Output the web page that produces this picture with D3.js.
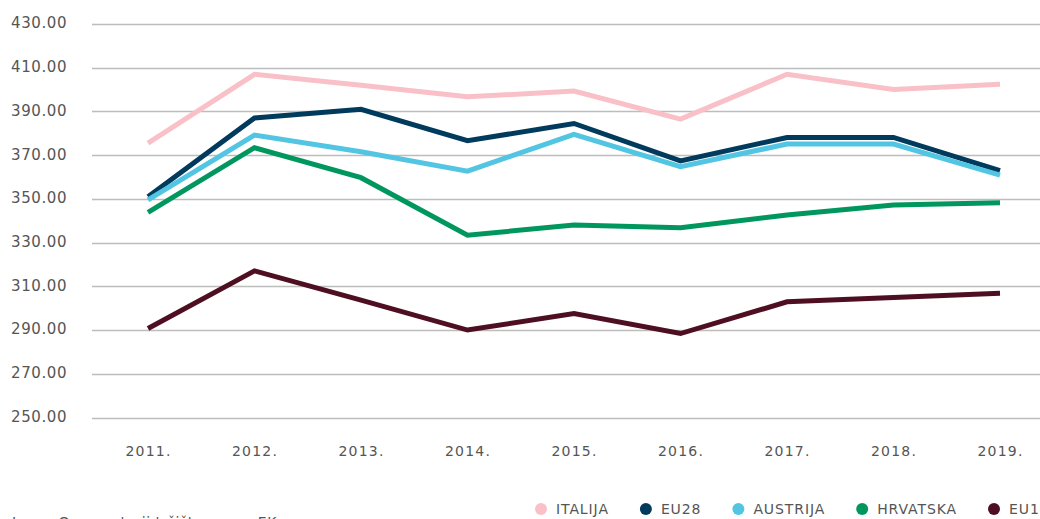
<!DOCTYPE html>
<html>
<head>
<meta charset="utf-8">
<script src="https://cdn.jsdelivr.net/npm/d3@7"></script>
<style>
  html, body { margin: 0; padding: 0; background: #fff; }
  svg { display: block; }
  text { font-family: "DejaVu Sans", sans-serif; fill: #555; }
</style>
</head>
<body>
<svg id="chart" width="1040" height="519"></svg>
<script>
const years = ["2011.", "2012.", "2013.", "2014.", "2015.", "2016.", "2017.", "2018.", "2019."];
const yTicks = [250, 270, 290, 310, 330, 350, 370, 390, 410, 430];
const seriesNames = ["ITALIJA", "EU28", "AUSTRIJA", "HRVATSKA", "EU13"];
const seriesColors = ["#f9c0c8", "#003a5d", "#52c5e2", "#00975f", "#4f0f22"];
const italija  = [375.5, 407.0, 402.0, 396.7, 399.3, 386.5, 407.0, 400.0, 402.4];
const eu28     = [351.0, 387.0, 391.0, 376.6, 384.5, 367.4, 378.1, 378.1, 362.9];
const austrija = [349.5, 379.2, 371.6, 362.7, 379.5, 364.7, 375.1, 375.1, 360.9];
const hrvatska = [343.8, 373.4, 359.7, 333.4, 338.0, 336.8, 342.6, 347.2, 348.2];
const eu13     = [290.7, 317.1, 303.7, 290.0, 297.6, 288.4, 302.9, 304.9, 306.8];
const sourceText = "Izvor: Opservatorij tržišta mesa, EK";

const seriesValues = [italija, eu28, austrija, hrvatska, eu13];

const svg = d3.select("#chart");

const x = d3.scalePoint().domain(years).range([148, 1000]);
const y = d3.scaleLinear().domain([250, 430]).range([417.5, 24]);

// gridlines
svg.append("g")
  .selectAll("line")
  .data(yTicks)
  .join("line")
  .attr("x1", 92).attr("x2", 1040)
  .attr("y1", d => Math.round(y(d)) + 0.5)
  .attr("y2", d => Math.round(y(d)) + 0.5)
  .attr("stroke", "#bdbdbd")
  .attr("stroke-width", 1.3);

// y labels
svg.append("g")
  .selectAll("text")
  .data(yTicks)
  .join("text")
  .attr("x", 11)
  .attr("y", d => y(d) - 1)
  .attr("dy", "0.36em")
  .attr("font-size", 15)
  .attr("letter-spacing", 0.6)
  .text(d => d.toFixed(2));

// x labels
const xAxis = svg.append("g")
  .attr("transform", "translate(0,451)")
  .call(d3.axisBottom(x).tickSize(0).tickPadding(0));
xAxis.select(".domain").remove();
xAxis.selectAll("text")
  .attr("font-size", 14)
  .attr("letter-spacing", 1.2)
  .attr("dy", "0.36em")
  .style("font-family", "\"DejaVu Sans\", sans-serif")
  .style("fill", "#555");

// lines
const line = d3.line()
  .x((d, i) => x(years[i]))
  .y(d => y(d));

svg.append("g")
  .selectAll("path")
  .data(seriesValues)
  .join("path")
  .attr("d", d => line(d))
  .attr("fill", "none")
  .attr("stroke", (d, i) => seriesColors[i])
  .attr("stroke-width", 5)
  .attr("stroke-linejoin", "miter");

// legend
const legend = svg.append("g");
let lx = 541;
seriesNames.forEach((name, i) => {
  legend.append("circle")
    .attr("cx", lx).attr("cy", 509).attr("r", 6)
    .attr("fill", seriesColors[i]);
  const t = legend.append("text")
    .attr("x", lx + 15)
    .attr("y", 509)
    .attr("dy", "0.36em")
    .attr("font-size", 14)
    .attr("letter-spacing", 0.9)
    .text(name);
  const w = t.node().getComputedTextLength();
  lx = lx + 15 + w + 37;
});

// source
svg.append("text")
  .attr("x", 12)
  .attr("y", 527)
  .attr("font-size", 14)
  .attr("letter-spacing", 0.5)
  .text(sourceText);
</script>
</body>
</html>
